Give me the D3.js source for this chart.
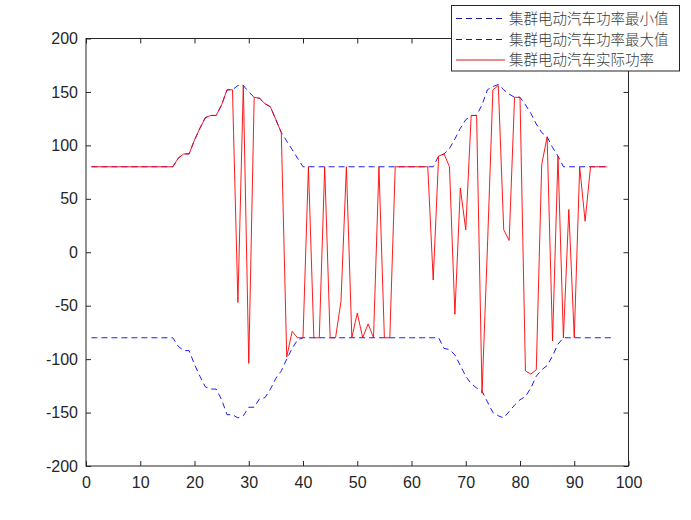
<!DOCTYPE html>
<html><head><meta charset="utf-8">
<script src="https://cdn.jsdelivr.net/npm/d3@7"></script>
<style>body{margin:0;background:#fff}svg{display:block}</style>
</head><body>
<svg id="c" width="691" height="520"></svg>
<script>
const xTicks = [0,10,20,30,40,50,60,70,80,90,100];
const yTicks = [-200,-150,-100,-50,0,50,100,150,200];
const seriesNames = ["集群电动汽车功率最小值","集群电动汽车功率最大值","集群电动汽车实际功率"];

const pMin = [-80,-80,-80,-80,-80,-80,-80,-80,-80,-80,-80,-80,-80,-80,-80,-80,
  -88,-92,-92,-105,-116,-126,-128,-128,-138,-152,-152,-155,-153,-145,-145,-137,-136,-128,-118,-111,-100,-90,-82,
  -80,-80,-80,-80,-80,-80,-80,-80,-80,-80,-80,-80,-80,-80,-80,-80,-80,-80,-80,-80,-80,-80,-80,-80,-80,-80,
  -90,-91,-96,-106,-116,-123,-127,-130,-140,-150,-153,-155,-149,-143,-138,-135,-127,-116,-110,-106,-97,-86,
  -80,-80,-80,-80,-80,-80,-80,-80,-80,-80];
const pMax = [80,80,80,80,80,80,80,80,80,80,80,80,80,80,80,80,
  88,92,92,105,116,126,128,128,138,152,152,156,156,150,145,144,139,136,124,112,104,96,88,
  80,80,80,80,80,80,80,80,80,80,80,80,80,80,80,80,80,80,80,80,80,80,80,80,80,
  90,92,97,106,116,124,128,128,138,152,155,157,152,148,145,145,138,130,120,112,108,98,90,
  80,80,80,80,80,80,80,80,80];
const pAct = [80,80,80,80,80,80,80,80,80,80,80,80,80,80,80,80,
  88,92,92,105,116,126,128,128,138,152,152,-47,156,-104,145,144,139,136,124,112,-98,-74,-80,-80,
  80,-80,-80,80,-80,-80,-46,80,-80,-57,-80,-67,-80,80,-80,-80,
  80,80,80,80,80,80,80,-26,90,92,80,-58,60,21,128,128,-132,5,152,156,21,11,145,145,
  -111,-114,-110,82,108,-83,90,-80,40,-80,80,29,80,80,80,80];

const svg = d3.select("#c");
const L = 86, R = 628.5, T = 38.5, B = 466;
const x = d3.scaleLinear().domain([0,100]).range([L,R]);
const y = d3.scaleLinear().domain([-200,200]).range([B,T]);
const axisColor = "#262626";
const font = "'Liberation Sans', Arial, sans-serif";
const fmt = d => String(d);

const g = svg.append("g");
g.append("rect").attr("x",L).attr("y",T).attr("width",R-L).attr("height",B-T)
  .attr("fill","none").attr("stroke",axisColor).attr("stroke-width",1);

const xb = g.append("g").attr("transform",`translate(0,${B})`)
  .call(d3.axisBottom(x).tickValues(xTicks).tickSize(-5).tickPadding(11).tickFormat(fmt));
const xt = g.append("g").attr("transform",`translate(0,${T})`)
  .call(d3.axisTop(x).tickValues(xTicks).tickSize(-5).tickFormat(""));
const yl = g.append("g").attr("transform",`translate(${L},0)`)
  .call(d3.axisLeft(y).tickValues(yTicks).tickSize(-5).tickPadding(8).tickFormat(fmt));
const yr = g.append("g").attr("transform",`translate(${R},0)`)
  .call(d3.axisRight(y).tickValues(yTicks).tickSize(-5).tickFormat(""));
[xb,xt,yl,yr].forEach(a=>{
  a.select(".domain").remove();
  a.selectAll("line").attr("stroke",axisColor);
  a.selectAll("text").attr("fill",axisColor).style("font-family",font).style("font-size","16px");
});

const line = d3.line().x((d,i)=>x(i+1)).y(d=>y(d));

g.append("path").datum(pMin).attr("d",line).attr("fill","none")
  .attr("stroke","#0000ff").attr("stroke-width",0.9).attr("stroke-dasharray","6,4");
g.append("path").datum(pMax).attr("d",line).attr("fill","none")
  .attr("stroke","#0000ff").attr("stroke-width",0.9).attr("stroke-dasharray","6,4");
g.append("path").datum(pAct).attr("d",line).attr("fill","none")
  .attr("stroke","#ff0000").attr("stroke-width",0.9);

const lg = svg.append("g");
lg.append("rect").attr("x",451.5).attr("y",5.5).attr("width",228).attr("height",65.5)
  .attr("fill","#fff").attr("stroke",axisColor).attr("stroke-width",1);
const rows = [18.5, 39.5, 60];
const styles = [{c:"#00008b",d:"6,4"},{c:"#00008b",d:"6,4"},{c:"#cc0000",d:null}];
seriesNames.forEach((n,i)=>{
  const l = lg.append("line").attr("x1",456).attr("x2",505).attr("y1",rows[i]).attr("y2",rows[i])
    .attr("stroke",styles[i].c).attr("stroke-width",0.9);
  if (styles[i].d) l.attr("stroke-dasharray",styles[i].d);
  lg.append("text").attr("x",509).attr("y",rows[i]).attr("dy","0.36em")
    .attr("fill","#3a3a3a").style("font-family","'Noto Sans CJK SC', sans-serif")
    .style("font-weight","300").style("font-size","14.5px").text(n);
});
</script>
</body></html>
